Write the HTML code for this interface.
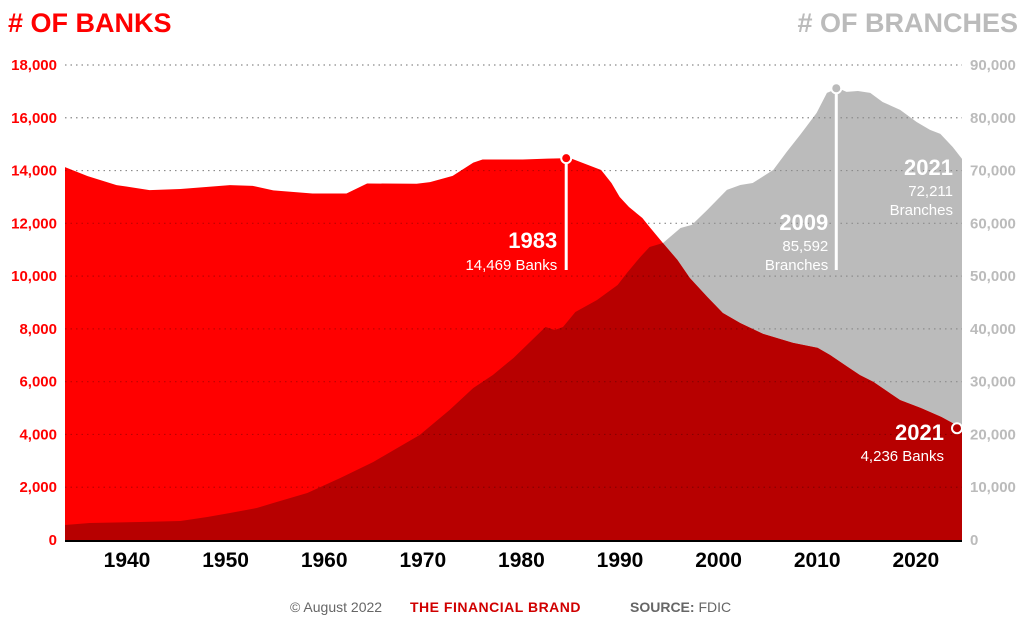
<!DOCTYPE html>
<html><head><meta charset="utf-8"><style>
body{margin:0;background:#fff;width:1024px;height:621px;overflow:hidden;font-family:"Liberation Sans",sans-serif}
</style></head><body>
<svg id="chart" width="1024" height="621" xmlns="http://www.w3.org/2000/svg" font-family="Liberation Sans, sans-serif">
<text x="8" y="32" font-size="27" font-weight="900" fill="#ff0000">#&#160;OF BANKS</text>
<text x="1018" y="32" font-size="27" font-weight="900" fill="#bbbbbb" text-anchor="end">#&#160;OF BRANCHES</text>
<g id="grid"></g>
<g id="areas"></g>
<g id="grid2"></g>
<g id="axes"></g>
<g id="notes"></g>
<text x="290" y="612" font-size="14" fill="#666">© August 2022</text>
<text x="410" y="612" font-size="14" font-weight="900" fill="#d00000" letter-spacing="0.5">THE FINANCIAL BRAND</text>
<text x="630" y="612" font-size="14" fill="#666"><tspan font-weight="bold">SOURCE:</tspan> FDIC</text>
</svg>
<script>
const bankYears=[1934,1936.2,1939,1942.2,1945.2,1950,1952.2,1954.2,1958,1961.3,1963.3,1968.1,1969.4,1971.6,1973.6,1974.5,1978.4,1980.8,1983,1986,1987,1987.8,1988.7,1990,1990.7,1992,1993.4,1994.6,1996.3,1997.8,1999.5,2001.7,2004.6,2007,2008.2,2009.9,2011.1,2012.4,2015,2017,2019,2021];
const bankValues=[14130,13790,13450,13260,13300,13450,13420,13250,13130,13130,13510,13500,13560,13800,14300,14420,14420,14450,14469,14020,13530,13000,12620,12200,11860,11250,10610,9930,9210,8600,8220,7810,7470,7280,7010,6560,6250,5990,5300,5000,4660,4236];
const branchYears=[1934,1936.4,1941.3,1945.2,1947.8,1950,1952.6,1954.2,1957.5,1960.7,1963.9,1968.4,1971.3,1973.6,1975.5,1977.5,1980.6,1981.5,1982.3,1983.5,1985.6,1987.6,1988.5,1989.8,1990.7,1992,1993.7,1994.8,1996.3,1998.2,1999.5,2000.7,2002.7,2004,2005.3,2006.9,2007.9,2009,2009.8,2010.9,2012.1,2013.3,2015,2016.6,2017.9,2018.9,2020.1,2021];
const branchValues=[2840,3220,3410,3600,4360,5120,6060,7010,8900,11750,14780,19900,24640,28800,31270,34490,40360,39800,40360,43210,45480,48320,50600,53630,55520,56280,59120,59700,62540,66330,67270,67650,70120,73530,76750,80920,84710,85592,84900,85080,84710,83000,81490,79210,77700,76940,74470,72211];
const leftTicks=[0,2000,4000,6000,8000,10000,12000,14000,16000,18000];
const rightTicks=[0,10000,20000,30000,40000,50000,60000,70000,80000,90000];
const yearTicks=[1940,1950,1960,1970,1980,1990,2000,2010,2020];

const NS="http://www.w3.org/2000/svg";
const X0=65,X1=962,Y0=540,Y1=65;
const xS=y=>X0+(y-1934)/(2021-1934)*(X1-X0);
const xTick=y=>127+(y-1940)*9.86;
const yL=v=>Y0-v/18000*(Y0-Y1);
const yR=v=>Y0-v/90000*(Y0-Y1);
function mk(tag,attrs,parent,txt){const e=document.createElementNS(NS,tag);for(const k in attrs)e.setAttribute(k,attrs[k]);if(txt!==undefined)e.textContent=txt;parent.appendChild(e);return e;}
const grid=document.getElementById('grid'),grid2=document.getElementById('grid2'),areas=document.getElementById('areas'),axes=document.getElementById('axes'),notes=document.getElementById('notes');

leftTicks.forEach((v,i)=>{
  if(v>0){const l=mk('line',{x1:X0,x2:X1,y1:yL(v),y2:yL(v),stroke:'#bbb','stroke-width':1.2,'stroke-dasharray':'1.5 4'},grid);
  
  
  const l2=mk('line',{x1:X0,x2:X1,y1:yL(v),y2:yL(v),stroke:'#000','stroke-opacity':0.25,'stroke-width':1.2,'stroke-dasharray':'1.5 4'},grid2);
  
  }
  const t=mk('text',{x:57,y:yL(v)+5,'font-size':15,'font-weight':'bold',fill:'#ff0000','text-anchor':'end'},axes,v.toLocaleString('en-US'));
  
  
});
rightTicks.forEach(v=>{
  const t=mk('text',{x:970,y:yR(v)+5,'font-size':15,'font-weight':'bold',fill:'#bbb'},axes,v.toLocaleString('en-US'));
  
  
});
yearTicks.forEach(y=>{
  const t=mk('text',{x:xTick(y),y:567,'font-size':21,'font-weight':'900',fill:'#000','text-anchor':'middle'},axes,String(y));
  
  
});

function areaPath(ys,vs,sc){let d=`M${xS(ys[0])},${Y0}`;ys.forEach((y,i)=>d+=` L${xS(y)},${sc(vs[i])}`);return d+` L${xS(ys[ys.length-1])},${Y0} Z`;}
const bp=areaPath(bankYears,bankValues,yL), rp=areaPath(branchYears,branchValues,yR);
const defs=mk('defs',{},areas);const cp=mk('clipPath',{id:'brclip'},defs);mk('path',{d:rp},cp);
const g1=mk('path',{d:rp,fill:'#bbbbbb'},areas);


const r1=mk('path',{d:bp,fill:'#ff0000'},areas);


const d1=mk('path',{d:bp,fill:'#b70000','clip-path':'url(#brclip)'},areas);


const base=mk('line',{x1:X0,x2:X1,y1:Y0+1,y2:Y0+1,stroke:'#000','stroke-width':2},axes);



const iPeak=bankValues.indexOf(Math.max(...bankValues));
const bx=xS(bankYears[iPeak])-4,by=yL(bankValues[iPeak]);
mk('line',{x1:bx,x2:bx,y1:by,y2:270,stroke:'#fff','stroke-width':3},notes);
const c1=mk('circle',{cx:bx,cy:by,r:5,fill:'#ff0000',stroke:'#fff','stroke-width':2},notes);


mk('text',{x:bx-9,y:248,'font-size':22,'font-weight':'900',fill:'#fff','text-anchor':'end'},notes,'1983');
mk('text',{x:bx-9,y:270,'font-size':15,fill:'#fff','text-anchor':'end'},notes,'14,469 Banks');

const jPeak=branchValues.indexOf(Math.max(...branchValues));
const rx=xS(branchYears[jPeak])-2,ry=yR(branchValues[jPeak]);
mk('line',{x1:rx,x2:rx,y1:ry,y2:270,stroke:'#fff','stroke-width':3},notes);
const c2=mk('circle',{cx:rx,cy:ry,r:5,fill:'#bbb',stroke:'#fff','stroke-width':2},notes);


mk('text',{x:rx-8,y:230,'font-size':22,'font-weight':'900',fill:'#fff','text-anchor':'end'},notes,'2009');
mk('text',{x:rx-8,y:251,'font-size':15,fill:'#fff','text-anchor':'end'},notes,'85,592');
mk('text',{x:rx-8,y:270,'font-size':15,fill:'#fff','text-anchor':'end'},notes,'Branches');

mk('text',{x:953,y:175,'font-size':22,'font-weight':'900',fill:'#fff','text-anchor':'end'},notes,'2021');
mk('text',{x:953,y:196,'font-size':15,fill:'#fff','text-anchor':'end'},notes,'72,211');
mk('text',{x:953,y:215,'font-size':15,fill:'#fff','text-anchor':'end'},notes,'Branches');

const ex=xS(bankYears[bankYears.length-1])-5,ey=yL(bankValues[bankValues.length-1]);
const c3=mk('circle',{cx:ex,cy:ey,r:5,fill:'#b70000',stroke:'#fff','stroke-width':2},notes);


mk('text',{x:944,y:440,'font-size':22,'font-weight':'900',fill:'#fff','text-anchor':'end'},notes,'2021');
mk('text',{x:944,y:461,'font-size':15,fill:'#fff','text-anchor':'end'},notes,'4,236 Banks');
</script>
</body></html>
